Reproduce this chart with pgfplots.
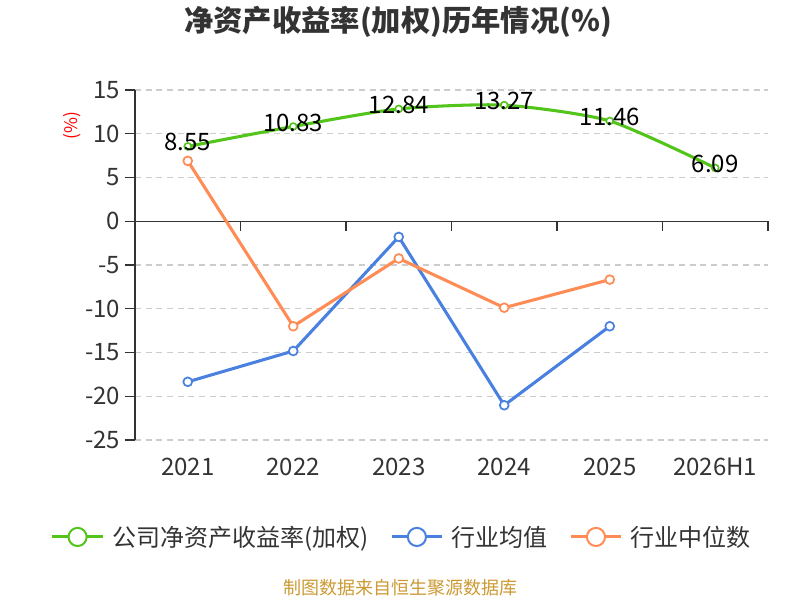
\documentclass[border=0pt]{standalone}
\usepackage{fontspec}
\setmainfont{Noto Sans CJK SC}
\usepackage{pgfplots}
\pgfplotsset{compat=1.18}
\definecolor{cgreen}{RGB}{82,196,26}
\definecolor{cblue}{RGB}{74,128,224}
\definecolor{corange}{RGB}{255,140,85}
\definecolor{tgray}{RGB}{51,51,51}
\definecolor{axgray}{RGB}{51,51,51}
\definecolor{gridgray}{RGB}{204,204,204}
\definecolor{csrc}{RGB}{204,153,51}
\begin{document}
\begin{tikzpicture}
\path[use as bounding box] (0pt,0pt) rectangle (600pt,450pt);
\node[font=\fontsize{22}{26}\selectfont\bfseries, text=tgray] at (298.5pt,433.5pt) {净资产收益率(加权)历年情况(\%)};
\node[font=\fontsize{13.5}{16}\selectfont, text=csrc] at (300pt,9pt) {制图数据来自恒生聚源数据库};
\node[font=\fontsize{13}{15}\selectfont, text=red, rotate=90] at (54pt,356pt) {(\%)};
\begin{axis}[
  at={(101.25pt,120pt)}, anchor=south west,
  scale only axis, width=474.75pt, height=262.5pt,
  xmin=-0.5, xmax=5.5, ymin=-25, ymax=15,
  axis line style={draw=none},
  xtick={0,...,5},
  xticklabels={2021,2022,2023,2024,2025,2026H1},
  xtick style={draw=none},
  xtick pos=bottom,
  ytick={-25,-20,...,15},
  ytick pos=left,
  tick align=outside,
  major tick length=7.5pt,
  ytick style={draw=axgray, line width=1.1pt},
  ymajorgrids,
  grid style={gridgray, line width=1pt, dash pattern=on 4.5pt off 3.5pt},
  /pgf/number format/assume math mode=true,
  yticklabel style={font=\fontsize{18}{20}\selectfont, text=tgray},
  xticklabel style={font=\fontsize{18}{20}\selectfont, text=tgray, yshift=-2.5pt},
  legend columns=3,
  legend style={draw=none, fill=none, at={(axis description cs:0.422,-0.277)}, anchor=center,
    font=\fontsize{18}{20}\selectfont, text=tgray,
    /tikz/every even column/.append style={column sep=14pt}},
  legend image code/.code={\draw[#1, mark=none] (-2pt,0pt) -- (36pt,0pt); \draw[#1, fill=white, line width=1.5pt] (17pt,0pt) circle (6.8pt); \path (40pt,0pt);},
  clip=false,
]
\draw[axgray, line width=1.1pt] (axis cs:-0.5,-25) -- (axis cs:-0.5,15);
\draw[axgray, line width=1.1pt] (axis cs:-0.5,0) -- (axis cs:5.5,0);
\pgfplotsinvokeforeach{-0.5,0.5,1.5,2.5,3.5,4.5,5.5}{\draw[axgray, line width=1.1pt] (axis cs:#1,0) -- ++(0pt,-7.5pt);}
\addplot[cgreen, line width=2.3pt, smooth, tension=0.4, mark=*, mark size=2.6pt, mark options={fill=white, line width=1.2pt},
  nodes near coords, point meta=explicit symbolic,
  every node near coord/.append style={font=\fontsize{18}{20}\selectfont, text=black, anchor=center, yshift=3pt}]
  table[meta=lab] {
x y lab
0 8.55 8.55
1 10.83 10.83
2 12.84 12.84
3 13.27 13.27
4 11.46 11.46
5 6.09 6.09
};
\addlegendentry{公司净资产收益率(加权)}
\addplot[cblue, line width=2.3pt, mark=*, mark size=3.3pt, mark options={fill=white, line width=1.3pt}]
  coordinates {(0,-18.35) (1,-14.83) (2,-1.79) (3,-21.03) (4,-12.0)};
\addlegendentry{行业均值}
\addplot[corange, line width=2.3pt, mark=*, mark size=3.3pt, mark options={fill=white, line width=1.3pt}]
  coordinates {(0,6.9) (1,-12.0) (2,-4.25) (3,-9.88) (4,-6.67)};
\addlegendentry{行业中位数}
\end{axis}
\end{tikzpicture}
\end{document}
